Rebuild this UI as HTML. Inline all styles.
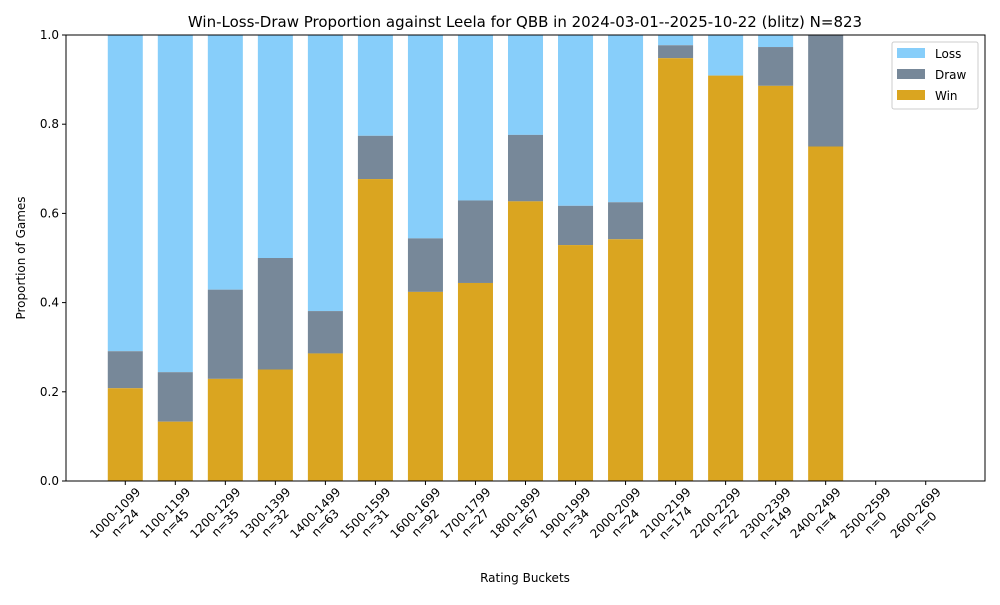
<!DOCTYPE html>
<html><head><meta charset="utf-8"><style>
body{margin:0;background:#fff;font-family:"Liberation Sans",sans-serif;}
svg text{font-family:"DejaVu Sans","Liberation Sans",sans-serif;}
</style></head><body>
<svg id="chart" width="1000" height="600">
<rect width="1000" height="600" fill="#fff"/>
<text x="525" y="27" font-size="15" text-anchor="middle">Win-Loss-Draw Proportion against Leela for QBB in 2024-03-01--2025-10-22 (blitz) N=823</text>
<g id="bars"></g>
<g id="axes"></g>
<text x="525" y="582" font-size="12" text-anchor="middle">Rating Buckets</text>
<text transform="translate(25,258) rotate(-90)" font-size="12" text-anchor="middle">Proportion of Games</text>
<g>
<rect x="892" y="42" width="86" height="67" fill="#fff" stroke="#ccc" rx="2"/>
<rect x="897" y="48" width="28" height="10" fill="#87CEFA"/><text x="935" y="58" font-size="12">Loss</text>
<rect x="897" y="69" width="28" height="10" fill="#778899"/><text x="935" y="79" font-size="12">Draw</text>
<rect x="897" y="90" width="28" height="10" fill="#DAA520"/><text x="935" y="100" font-size="12">Win</text>
</g>
</svg>
<script>
const categories=["1000-1099","1100-1199","1200-1299","1300-1399","1400-1499","1500-1599","1600-1699","1700-1799","1800-1899","1900-1999","2000-2099","2100-2199","2200-2299","2300-2399","2400-2499","2500-2599","2600-2699"];
const counts=[24,45,35,32,63,31,92,27,67,34,24,174,22,149,4,0,0];
const winProp=[0.208,0.133,0.229,0.25,0.286,0.677,0.424,0.444,0.627,0.529,0.542,0.948,0.909,0.886,0.75,0,0];
const drawProp=[0.083,0.111,0.2,0.25,0.095,0.097,0.12,0.185,0.149,0.088,0.083,0.029,0,0.087,0.25,0,0];
const yTicks=[0,0.2,0.4,0.6,0.8,1.0];
const L=66,R=985,T=35,B=481;
const ns="http://www.w3.org/2000/svg";
function xs(i){return L+(i+1.185)*(R-L)/18.37;}
function ys(v){return B-v*(B-T);}
const bw=0.7*(R-L)/18.37;
const bars=document.getElementById('bars'),axes=document.getElementById('axes');
function mk(tag,attrs,parent){const e=document.createElementNS(ns,tag);for(const k in attrs)e.setAttribute(k,attrs[k]);parent.appendChild(e);return e;}
categories.forEach((c,i)=>{
  if(counts[i]===0)return;
  const x=xs(i)-bw/2,w=winProp[i],d=drawProp[i];
  let r=mk('rect',{x:x,y:ys(1),width:bw,height:ys(w+d)-ys(1),fill:'#87CEFA'},bars);
  
  
  r=mk('rect',{x:x,y:ys(w+d),width:bw,height:ys(w)-ys(w+d),fill:'#778899'},bars);
  
  
  r=mk('rect',{x:x,y:ys(w),width:bw,height:ys(0)-ys(w),fill:'#DAA520'},bars);
  
  
});
mk('rect',{x:L,y:T,width:R-L,height:B-T,fill:'none',stroke:'#000','stroke-width':1},axes);
yTicks.forEach(v=>{
  mk('line',{x1:L-4,x2:L,y1:ys(v),y2:ys(v),stroke:'#000'},axes);
  const t=mk('text',{x:L-7,y:ys(v)+4,'font-size':12,'text-anchor':'end'},axes);
  t.textContent=v.toFixed(1);
  
  
});
categories.forEach((c,i)=>{
  const x=xs(i);
  mk('line',{x1:x,x2:x,y1:B,y2:B+4,stroke:'#000'},axes);
  const t=mk('text',{transform:`translate(${x-5},${518}) rotate(-45)`,'font-size':12,'text-anchor':'middle'},axes);
  
  
  const a=mk('tspan',{x:0,y:-3},t);a.textContent=c;
  const b=mk('tspan',{x:0,y:11},t);b.textContent='n='+counts[i];
});
</script>
</body></html>
